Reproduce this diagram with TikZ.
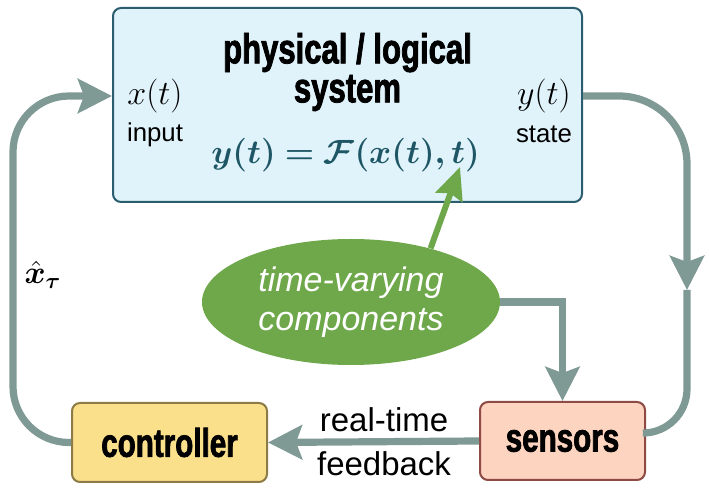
\RequirePackage{fix-cm}
\documentclass[tikz,border=0pt]{standalone}
\usepackage{amsmath,bm}
\usepackage[no-math]{fontspec}
\setmainfont{Liberation Sans}
\newfontfamily\blockfont[FakeStretch=0.74,FakeBold=1.8]{Liberation Sans Bold}
\usetikzlibrary{arrows.meta, calc, positioning, shapes.geometric}
\definecolor{sysFill}{HTML}{E0F3FB}
\definecolor{sysLine}{HTML}{2B5D6E}
\definecolor{eqTeal}{HTML}{1E5666}
\definecolor{loopGray}{HTML}{7F9A95}
\definecolor{leafGreen}{HTML}{6EA84B}
\definecolor{ctrlFill}{HTML}{FBE08C}
\definecolor{ctrlLine}{HTML}{8C7B45}
\definecolor{sensFill}{HTML}{FCD4BF}
\definecolor{sensLine}{HTML}{8E4A44}
\tikzset{
  block/.style={draw, rounded corners=4pt, line width=1pt, align=center,
                font=\blockfont\fontsize{20}{22}\selectfont},
  label/.style={font=\fontsize{12.9}{15}\selectfont},
  signal/.style={font=\fontsize{17}{20}\selectfont},
  loopline/.style={draw=loopGray, line width=3.6pt},
  loop/.style={loopline, -{Stealth[length=17pt, width=17pt, inset=3pt]}},
  nudge/.style={draw=leafGreen, line width=3pt,
                -{Stealth[length=16pt, width=14pt, inset=2pt]}},
}

\begin{document}
\begin{tikzpicture}[x=0.5pt, y=-0.5pt]
  \useasboundingbox (0,0) rectangle (709,497);
  % ================= system block =================
  \node[draw=sysLine, fill=sysFill, line width=1pt, rounded corners=4pt,
        minimum width=234.5pt, minimum height=97pt] (sys) at (347.5,105) {};
  \node[font=\blockfont\fontsize{21}{19.5}\selectfont, align=center]
    (title) at (347.5,72) {physical / logical\\system};
  \node[signal] (xin) at (155,96) {$x(t)$};
  \node[label] (inlbl) at (155,135) {input};
  \node[signal] (yout) at (544,96) {$y(t)$};
  \node[label] (statelbl) at (544,134) {state};
  \node[font=\fontsize{16.8}{20}\selectfont, text=eqTeal]
    (law) at (345.5,155) {$\bm{y(t)=\mathcal{F}(x(t),t)}$};
  % ================= disturbances =================
  \node[ellipse, fill=leafGreen, inner sep=0pt, minimum width=149pt,
        minimum height=63pt, text=white, align=center,
        font=\itshape\fontsize{17}{19.5}\selectfont]
    (tv) at (351,302) {time-varying\\components};
  \coordinate (tpoint) at (460,167);
  \draw[nudge] (tv.34) -- (tpoint);
  % ================= loop blocks =================
  \node[block, fill=sensFill, draw=sensLine, minimum width=82.5pt,
        minimum height=39pt] (sens) at (562.5,441) {sensors};
  \node[block, fill=ctrlFill, draw=ctrlLine, minimum width=97.5pt,
        minimum height=39.5pt] (ctrl) at (169.5,442.5) {controller};
  % ================= connectors =================
  \coordinate (rmid) at (687,290);
  \coordinate (lrail) at (13,270);
  \draw[loop, rounded corners=34pt] (sys.east |- yout) -| (rmid);
  \draw[loopline, rounded corners=22pt] (rmid) |- ([yshift=4pt]sens.east);
  \draw[loop] (tv.east) -| (sens.north);
  \draw[loop] (sens.west) -- (ctrl.east)
    node[pos=0.45, above, font=\fontsize{16.5}{18}\selectfont] (rtlbl) {real-time}
    node[pos=0.45, below, font=\fontsize{16.5}{18}\selectfont] (fblbl) {feedback};
  \draw[loop, rounded corners=28pt] (ctrl.west) -| (lrail) |- (sys.west |- xin);
  \node[font=\fontsize{16}{19}\selectfont] (xhat) at (43,275)
    {$\hat{\bm{x}}_{\bm{\tau}}$};
\end{tikzpicture}
\end{document}
